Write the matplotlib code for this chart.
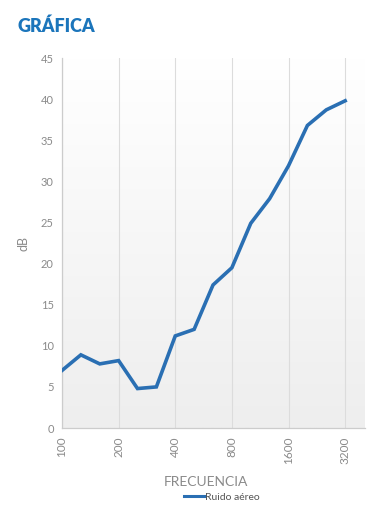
import numpy as np
import matplotlib.pyplot as plt
from matplotlib.lines import Line2D
from matplotlib.colors import LinearSegmentedColormap

plt.rcParams['font.family'] = ['Lato', 'DejaVu Sans']

# third-octave bands (Hz) and airborne noise insulation (dB)
freqs = ['100', '125', '160', '200', '250', '315', '400', '500', '630',
         '800', '1000', '1250', '1600', '2000', '2500', '3200']
ruido = [7.0, 8.9, 7.8, 8.2, 4.8, 5.0, 11.2, 12.0, 17.4,
         19.5, 24.9, 27.9, 31.9, 36.8, 38.7, 39.8]
shown = ['100', '200', '400', '800', '1600', '3200']

blue = '#2a6fb3'
grey = '#8a8a8a'

fig = plt.figure(figsize=(3.85, 5.23), dpi=100)
ax = fig.add_axes([0.161, 0.1816, 0.787, 0.7074])

x = np.arange(len(freqs))
ax.set_xlim(0, len(freqs) + 0.05)
ax.set_ylim(0, 45)

# soft vertical gradient background
grad = np.linspace(0, 1, 256).reshape(-1, 1)
cmap = LinearSegmentedColormap.from_list('bg', ['#ffffff', '#eeeeee'])
ax.imshow(grad, extent=[0, len(freqs) + 0.05, 0, 45], aspect='auto',
          cmap=cmap, origin='upper', zorder=0)

ticks = [i for i, f in enumerate(freqs) if f in shown]
for t in ticks:
    ax.axvline(t, color='#dcdcdc', lw=0.8, zorder=1)

ax.plot(x, ruido, color=blue, lw=2.6, solid_joinstyle='miter', zorder=3)

ax.set_xticks(ticks)
ax.set_xticklabels([freqs[t] for t in ticks], rotation=90, color=grey, fontsize=8.5)
ax.set_yticks(range(0, 46, 5))
ax.set_yticklabels([str(v) for v in range(0, 46, 5)], color=grey, fontsize=8)
ax.tick_params(length=0, pad=6)

for s in ['top', 'right']:
    ax.spines[s].set_visible(False)
for s in ['left', 'bottom']:
    ax.spines[s].set_color('#cccccc')
    ax.spines[s].set_linewidth(0.9)

ax.set_ylabel('dB', color=grey, fontsize=9, labelpad=8)
fig.text(206 / 385, 1 - 482 / 523, 'FRECUENCIA', color=grey, fontsize=10,
         ha='center', va='center')

fig.text(17 / 385, 1 - 26 / 523, 'GRÁFICA', color='#1b75bb', fontsize=13,
         fontweight='heavy', va='center', ha='left')

handle = Line2D([], [], color=blue, lw=2.2)
fig.legend([handle], ['Ruido aéreo'], loc='center', bbox_to_anchor=(222 / 385, 1 - 497 / 523),
           frameon=False, fontsize=7.5, handlelength=2.0, handletextpad=0.0,
           labelcolor='#555555')

fig.savefig('out.png', dpi=100)
